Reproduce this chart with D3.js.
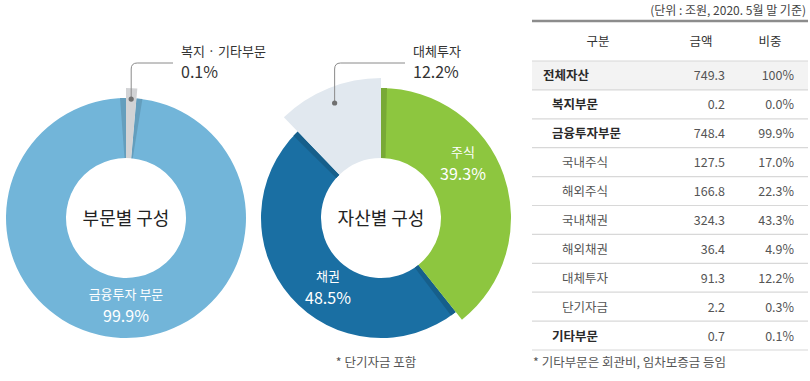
<!DOCTYPE html>
<html><head><meta charset="utf-8">
<script src="https://cdn.jsdelivr.net/npm/d3@7"></script>
<style>
body{margin:0;background:#fff;}
svg{display:block;font-family:"Noto Sans CJK KR","Noto Sans",sans-serif;}
</style>
</head><body>
<svg id="chart" width="810" height="381"></svg>
<script>
// ---------------- data ----------------
const sectorNames  = ["복지 · 기타부문", "금융투자 부문"];
const sectorShares = [0.1, 99.9];
const assetNames   = ["주식", "채권", "대체투자"];
const assetShares  = [39.3, 48.5, 12.2];

const unitNote     = "(단위 : 조원, 2020. 5월 말 기준)";
const tableHeaders = ["구분", "금액", "비중"];
const tableLabels  = ["전체자산","복지부문","금융투자부문","국내주식","해외주식","국내채권","해외채권","대체투자","단기자금","기타부문"];
const tableAmounts = [749.3, 0.2, 748.4, 127.5, 166.8, 324.3, 36.4, 91.3, 2.2, 0.7];
const tableShares  = [100, 0.0, 99.9, 17.0, 22.3, 43.3, 4.9, 12.2, 0.3, 0.1];
const rowDepth     = [0, 1, 1, 2, 2, 2, 2, 2, 2, 1];
const tableNote    = "* 기타부문은 회관비, 임차보증금 등임";
const donutNote    = "* 단기자금 포함";

// ---------------- drawing ----------------
const svg = d3.select("#chart");
const rad = d => d * Math.PI / 180;
const pt = (r, a) => [r * Math.sin(a), -r * Math.cos(a)];
const fmtPct = v => v === 100 ? "100%" : v.toFixed(1) + "%";

function donut(opts) {
  const g = svg.append("g").attr("transform", `translate(${opts.cx},${opts.cy})`);
  const pie = d3.pie().sort(null).value(d => d.value);
  let arcs = pie(opts.names.map((n, i) => ({name: n, value: opts.values[i]})));
  // minimum visible angle for tiny slices
  const minA = rad(opts.minAngle || 0);
  if (arcs.some(a => a.endAngle - a.startAngle < minA)) {
    const isSmall = a => a.endAngle - a.startAngle < minA;
    const nSmall = arcs.filter(isSmall).length;
    const bigSum = d3.sum(arcs.filter(a => !isSmall(a)), a => a.value);
    const rest = 2 * Math.PI - nSmall * minA;
    let ang = 0;
    arcs.forEach(a => {
      const span = isSmall(a) ? minA : a.value / bigSum * rest;
      a.startAngle = ang; a.endAngle = ang + span; ang += span;
    });
  }
  const n = arcs.length;
  arcs.forEach((a, i) => { a.outer = opts.outer[i]; a.color = opts.colors[i]; a.idx = i; });
  const arcGen = d3.arc().innerRadius(opts.inner).outerRadius(d => d.outer);

  function band(target, angle, s) {
    const wIn = opts.shadowIn, wOut = opts.shadowOut;
    const tx = Math.cos(angle), ty = Math.sin(angle);
    const p1 = pt(opts.inner, angle), p2 = pt(target.outer, angle);
    const p = d3.path();
    p.moveTo(p1[0], p1[1]);
    p.lineTo(p2[0], p2[1]);
    p.lineTo(p2[0] + s * wOut * tx, p2[1] + s * wOut * ty);
    p.lineTo(p1[0] + s * wIn * tx, p1[1] + s * wIn * ty);
    p.closePath();
    g.append("path").attr("d", p.toString())
      .attr("fill", d3.color(target.color).darker(opts.shadowDark).formatHex());
  }

  const order = arcs.slice().sort((a, b) => a.outer - b.outer);
  order.forEach(a => {
    const prev = arcs[(a.idx - 1 + n) % n], next = arcs[(a.idx + 1) % n];
    if (prev !== a && prev.outer < a.outer) band(prev, a.startAngle, -1);
    if (next !== a && next.outer < a.outer) band(next, a.endAngle, +1);
    g.append("path").attr("d", arcGen(a)).attr("fill", a.color);
  });

  // centre title
  g.append("text").attr("text-anchor", "middle").attr("y", 7)
    .attr("font-size", 18).attr("fill", "#222").text(opts.title);

  // in-slice labels
  opts.inLabels.forEach(l => {
    const a = arcs[l.i];
    g.append("text").attr("text-anchor", "middle").attr("x", l.dx).attr("y", l.dy)
      .attr("font-size", 13).attr("fill", "#fff").text(a.data.name);
    g.append("text").attr("text-anchor", "middle").attr("x", l.dx).attr("y", l.dy + 23)
      .attr("font-size", 16).attr("fill", "#fff").text(fmtPct(a.data.value));
  });

  // callout
  const c = opts.callout, a = arcs[c.i];
  const mid = (a.startAngle + a.endAngle) / 2;
  const d0 = pt(c.r, mid);
  const cr = 6;
  const lp = d3.path();
  lp.moveTo(d0[0], d0[1]);
  lp.lineTo(d0[0], c.lineY + cr);
  lp.quadraticCurveTo(d0[0], c.lineY, d0[0] + cr, c.lineY);
  lp.lineTo(c.labelX - 8, c.lineY);
  g.append("path").attr("d", lp.toString()).attr("fill", "none")
    .attr("stroke", "#8a8a8a").attr("stroke-width", 1);
  g.append("circle").attr("cx", d0[0]).attr("cy", d0[1]).attr("r", 2.6).attr("fill", "#707070");
  g.append("text").attr("x", c.labelX).attr("y", c.lineY - 7)
    .attr("font-size", 13).attr("fill", "#333").text(a.data.name);
  g.append("text").attr("x", c.labelX).attr("y", c.lineY + 15)
    .attr("font-size", 16).attr("fill", "#333").text(fmtPct(a.data.value));
  return g;
}

donut({
  cx: 126, cy: 218, inner: 60,
  names: sectorNames, values: sectorShares,
  outer: [130, 120], colors: ["#d2d3d5", "#72b5d9"],
  minAngle: 5, shadowIn: 1.5, shadowOut: 6, shadowDark: 0.38,
  title: "부문별 구성",
  inLabels: [{i: 1, dx: 0, dy: 81}],
  callout: {i: 0, r: 119, lineY: -155, labelX: 55}
});

donut({
  cx: 381, cy: 218, inner: 60,
  names: assetNames, values: assetShares,
  outer: [130, 120, 140], colors: ["#8dc63f", "#1a6fa3", "#e1e8ef"],
  minAngle: 0, shadowIn: 4.5, shadowOut: 6, shadowDark: 0.45,
  title: "자산별 구성",
  inLabels: [{i: 0, dx: 82, dy: -61}, {i: 1, dx: -53, dy: 63}],
  callout: {i: 2, r: 124, lineY: -155, labelX: 32}
});

svg.append("text").attr("x", 376).attr("y", 367).attr("text-anchor", "middle")
  .attr("font-size", 12.5).attr("fill", "#555").text(donutNote);

// ---------------- table ----------------
const tx0 = 532, tx1 = 808, headTop = 21, headH = 40, rowH = 28.9;
const colCenter = [598, 701, 770];
const amountRight = 725, shareRight = 794;
const t = svg.append("g");

t.append("text").attr("x", 806).attr("y", 14.5).attr("text-anchor", "end")
  .attr("font-size", 12).attr("fill", "#444").text(unitNote);

tableHeaders.forEach((h, i) => {
  t.append("text").attr("x", colCenter[i]).attr("y", headTop + 25).attr("text-anchor", "middle")
    .attr("font-size", 12.5).attr("fill", "#333").text(h);
});

const y0 = headTop + headH;
const rows = t.selectAll("g.row").data(tableLabels).join("g").attr("class", "row")
  .attr("transform", (d, i) => `translate(0,${y0 + i * rowH})`);
rows.filter((d, i) => rowDepth[i] === 0).append("rect")
  .attr("x", tx0).attr("width", tx1 - tx0).attr("height", rowH).attr("fill", "#f3f3f3");
rows.append("text")
  .attr("x", (d, i) => [543, 552, 562][rowDepth[i]])
  .attr("y", rowH / 2 + 5)
  .attr("font-size", 12.5)
  .attr("font-weight", (d, i) => rowDepth[i] < 2 ? 700 : 400)
  .attr("fill", (d, i) => rowDepth[i] < 2 ? "#2a2a2a" : "#555")
  .text(d => d);
rows.append("text").attr("x", amountRight).attr("y", rowH / 2 + 5).attr("text-anchor", "end")
  .attr("font-size", 12.5).attr("fill", "#555").text((d, i) => tableAmounts[i].toFixed(1));
rows.append("text").attr("x", shareRight).attr("y", rowH / 2 + 5).attr("text-anchor", "end")
  .attr("font-size", 12.5).attr("fill", "#555").text((d, i) => fmtPct(tableShares[i]));

// row separators
d3.range(tableLabels.length + 1).forEach(i => {
  t.append("line").attr("x1", tx0).attr("x2", tx1)
    .attr("y1", y0 + i * rowH).attr("y2", y0 + i * rowH)
    .attr("stroke", "#d8d8d8").attr("stroke-width", 1.2);
});
t.append("line").attr("x1", tx0).attr("x2", tx1).attr("y1", headTop).attr("y2", headTop)
  .attr("stroke", "#8c8c8c").attr("stroke-width", 2.5);

svg.append("text").attr("x", 533).attr("y", 367)
  .attr("font-size", 12.5).attr("fill", "#555").text(tableNote);
</script>
</body></html>
